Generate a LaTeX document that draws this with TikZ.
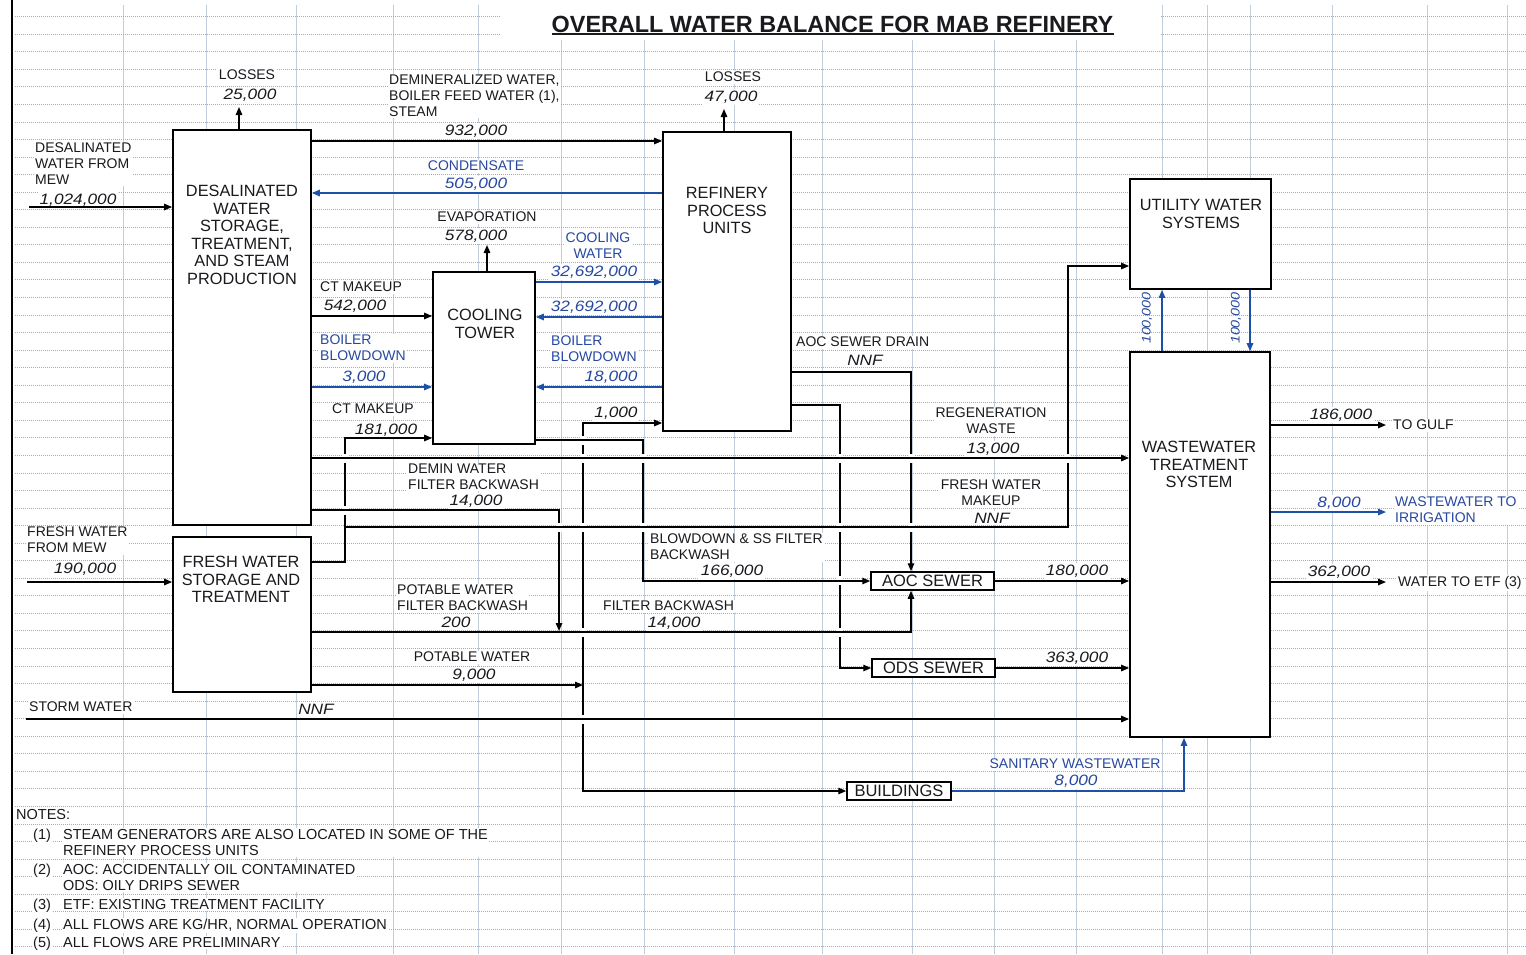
\documentclass[tikz,border=0pt]{standalone}
\usepackage{fontspec}
\setmainfont{Liberation Sans}
\newfontfamily\numfam[FakeStretch=1.15]{Liberation Sans}
\usetikzlibrary{arrows.meta}

\definecolor{ink}{RGB}{25,25,30}
\definecolor{flowblue}{RGB}{30,80,168}
\definecolor{txtblue}{RGB}{38,72,160}
\definecolor{gridv}{RGB}{192,205,218}
\definecolor{gridh}{RGB}{165,172,182}

\newcommand\lblfont{\fontsize{14}{16}\selectfont}
\newcommand\notefont{\fontsize{14.5}{16}\selectfont}
\newcommand\numfont{\numfam\itshape\fontsize{15}{17}\selectfont}
\newcommand\boxfont{\fontsize{16.3}{17.6}\selectfont}
% white break in a vertical run where another line crosses over it
\newcommand\hopgap[1]{\fill[white] (#1) ++(-2.6,-4.5) rectangle ++(5.2,9);}

\tikzset{
  >={Triangle[length=8pt,width=6.5pt]},
  procbox/.style={draw=black, fill=white, line width=1.8pt, inner sep=0pt},
  unittext/.style={font=\boxfont, text=ink, align=center, inner sep=0pt, anchor=north},
  sewerbox/.style={draw=black, fill=white, line width=1.5pt, inner sep=0pt,
    minimum height=18pt, font=\fontsize{16.5}{18}\selectfont, text=ink},
  lb/.style={font=\lblfont, text=ink, fill=white, inner sep=1.5pt},
  lbw/.style={lb, anchor=north west, align=left},
  lbc/.style={lb, anchor=north, align=center},
  note/.style={lbw, font=\notefont},
  nm/.style={font=\numfont, text=ink, fill=white, inner sep=1.5pt, anchor=north},
  vnum/.style={font=\numfam\itshape\fontsize{12.5}{15}\selectfont, text=txtblue,
    inner sep=0pt, anchor=center, rotate=90},
  flow/.style={draw=black, line width=1.4pt, ->},
  bflow/.style={draw=flowblue, line width=1.4pt, ->},
  gridvl/.style={draw=gridv, line width=0.8pt},
  gridhl/.style={draw=gridh, line width=0.6pt, dash pattern=on 1pt off 1pt},
}

\begin{document}
\begin{tikzpicture}[x=1pt, y=-1pt]
\useasboundingbox (0,0) rectangle (1526,954);

% ---- spreadsheet grid ----
\foreach \gx in {123,206,296,393,478,561,644,734,822,912,994,1076,1162,1207,1250,1332,1427,1507}
  \draw[gridvl] (\gx,5) -- (\gx,954);
\foreach \k in {0,...,53}
  \draw[gridhl] (15,16.5+17.55*\k) -- (1526,16.5+17.55*\k);
\fill[white] (500,0) rectangle (1160,40);
\draw[line width=1.3pt, black] (12,0) -- (12,954);

% ---- title ----
\node[font=\bfseries\fontsize{23.4}{27}\selectfont, text=ink, inner sep=0pt, anchor=north]
  (title) at (832.5,15.5) {OVERALL WATER BALANCE FOR MAB REFINERY};
\draw[line width=1.8pt, ink] ([yshift=-1.6pt]title.south west) -- ([yshift=-1.6pt]title.south east);

% ---- stream labels ----
\node[lbc] (tLossA) at (247,68.5) {LOSSES};
\node[nm]  (qLossA) at (250,87) {25,000};
\node[lbw] (tDwIn) at (33.5,141.5) {DESALINATED\\WATER FROM\\MEW};
\node[nm]  (qDwIn) at (78,192) {1,024,000};
\node[lbw] (tDemin) at (387.5,73.5) {DEMINERALIZED WATER,\\BOILER FEED WATER (1),\\STEAM};
\node[nm]  (qDemin) at (476,123) {932,000};
\node[lbc] (tLossB) at (733,70.5) {LOSSES};
\node[nm]  (qLossB) at (731,89) {47,000};
\node[lbc, text=txtblue] (tCond) at (476,159.5) {CONDENSATE};
\node[nm, text=txtblue]  (qCond) at (476,176) {505,000};
\node[lbc] (tEvap) at (487,210.5) {EVAPORATION};
\node[nm]  (qEvap) at (476,228) {578,000};
\node[lbc, text=txtblue] (tCw) at (598,231.5) {COOLING\\WATER};
\node[nm, text=txtblue]  (qCw) at (594,264) {32,692,000};
\node[nm, text=txtblue]  (qCwr) at (594,299) {32,692,000};
\node[lbw] (tCtA) at (318.5,280.5) {CT MAKEUP};
\node[nm]  (qCtA) at (355,298) {542,000};
\node[lbw, text=txtblue] (tBbA) at (318.5,333.5) {BOILER\\BLOWDOWN};
\node[nm, text=txtblue]  (qBbA) at (364,369) {3,000};
\node[lbw, text=txtblue] (tBbB) at (549.5,334.5) {BOILER\\BLOWDOWN};
\node[nm, text=txtblue]  (qBbB) at (611,369) {18,000};
\node[lbc] (tCtB) at (373,402.5) {CT MAKEUP};
\node[nm]  (qCtB) at (386,422) {181,000};
\node[nm]  (qPotRef) at (616,405) {1,000};
\node[lbw] (tDrain) at (794.5,335.5) {AOC SEWER DRAIN};
\node[nm]  (qDrain) at (865,353) {NNF};
\node[lbc] (tRegen) at (991,406.5) {REGENERATION\\WASTE};
\node[nm]  (qRegen) at (993,441) {13,000};
\node[lbw] (tDbw) at (406.5,462.5) {DEMIN WATER\\FILTER BACKWASH};
\node[nm]  (qDbw) at (476,493) {14,000};
\node[lbc] (tFwm) at (991,478.5) {FRESH WATER\\MAKEUP};
\node[nm]  (qFwm) at (992,511) {NNF};
\node[lbw] (tFwIn) at (25.5,525.5) {FRESH WATER\\FROM MEW};
\node[nm]  (qFwIn) at (85,561) {190,000};
\node[lbw] (tBsf) at (648.5,532.5) {BLOWDOWN \& SS FILTER\\BACKWASH};
\node[nm]  (qBsf) at (732,563) {166,000};
\node[nm]  (qAocOut) at (1077,563) {180,000};
\node[lbw] (tPfb) at (395.5,583.5) {POTABLE WATER\\FILTER BACKWASH};
\node[nm]  (qPfb) at (456,615) {200};
\node[lbw] (tFb) at (601.5,599.5) {FILTER BACKWASH};
\node[nm]  (qFb) at (674,615) {14,000};
\node[lbc] (tPot) at (472,650.5) {POTABLE WATER};
\node[nm]  (qPot) at (474,667) {9,000};
\node[nm]  (qOdsOut) at (1077,650) {363,000};
\node[lbw] (tStorm) at (27.5,700.5) {STORM WATER};
\node[nm]  (qStorm) at (316,702) {NNF};
\node[lbc, text=txtblue] (tSan) at (1075,757.5) {SANITARY WASTEWATER};
\node[nm, text=txtblue]  (qSan) at (1076,773) {8,000};
\node[nm]  (qGulf) at (1341,407) {186,000};
\node[lbw] (tGulf) at (1391.5,418.5) {TO GULF};
\node[nm, text=txtblue]  (qIrr) at (1339,495) {8,000};
\node[lbw, text=txtblue] (tIrr) at (1393.5,495.5) {WASTEWATER TO\\IRRIGATION};
\node[nm]  (qEtf) at (1339,564) {362,000};
\node[lbw] (tEtf) at (1396.5,574.5) {WATER TO ETF (3)};

% ---- notes ----
\node[note] (notes) at (14.5,807.5) {NOTES:};
\node[note] (n1) at (31.5,827.5) {(1)};
\node[note] (n1t) at (61.5,827.5) {STEAM GENERATORS ARE ALSO LOCATED IN SOME OF THE\\REFINERY PROCESS UNITS};
\node[note] (n2) at (31.5,862.5) {(2)};
\node[note] (n2t) at (61.5,862.5) {AOC: ACCIDENTALLY OIL CONTAMINATED\\ODS: OILY DRIPS SEWER};
\node[note] (n3) at (31.5,897.5) {(3)};
\node[note] (n3t) at (61.5,897.5) {ETF: EXISTING TREATMENT FACILITY};
\node[note] (n4) at (31.5,917.5) {(4)};
\node[note] (n4t) at (61.5,917.5) {ALL FLOWS ARE KG/HR, NORMAL OPERATION};
\node[note] (n5) at (31.5,935.5) {(5)};
\node[note] (n5t) at (61.5,935.5) {ALL FLOWS ARE PRELIMINARY};

% ---- process units ----
\node[procbox, minimum width=138pt, minimum height=395pt] (desal) at (242,327.5) {};
\node[unittext] (desalT) at (242,185) {DESALINATED\\WATER\\STORAGE,\\TREATMENT,\\AND STEAM\\PRODUCTION};
\node[procbox, minimum width=138pt, minimum height=155pt] (fw) at (242,614.5) {};
\node[unittext] (fwT) at (241,556) {FRESH WATER\\STORAGE AND\\TREATMENT};
\node[procbox, minimum width=102pt, minimum height=172pt] (ct) at (484,358) {};
\node[unittext] (ctT) at (485,309) {COOLING\\TOWER};
\node[procbox, minimum width=128pt, minimum height=299pt] (ref) at (727,281.5) {};
\node[unittext] (refT) at (727,187) {REFINERY\\PROCESS\\UNITS};
\node[procbox, minimum width=141pt, minimum height=110pt] (util) at (1200.5,234) {};
\node[unittext] (utilT) at (1201,199) {UTILITY WATER\\SYSTEMS};
\node[procbox, minimum width=140pt, minimum height=385pt] (wwts) at (1200,544.5) {};
\node[unittext] (wwtsT) at (1199,441) {WASTEWATER\\TREATMENT\\SYSTEM};
\node[sewerbox, minimum width=123pt] (aoc) at (932.5,581) {AOC SEWER};
\node[sewerbox, minimum width=123pt] (ods) at (933.5,668) {ODS SEWER};
\node[sewerbox, minimum width=104pt] (bld) at (899,791) {BUILDINGS};

% vertical flow values between the utility and wastewater units
\node[vnum] (qUp) at (1147,318) {100,000};
\node[vnum] (qDown) at (1236,318) {100,000};

% ---- free ends ----
\coordinate (lossA) at (239,107);
\coordinate (lossB) at (724,109);
\coordinate (evapT) at (487,245);
\coordinate (dwIn) at (29,207);
\coordinate (fwIn) at (27,582);
\coordinate (stormIn) at (26,719);
\coordinate (makeupTap) at (345,527);
\coordinate (potHead) at (583,685);
\coordinate (gulfOut) at (1386,425);
\coordinate (irrOut) at (1386,512);
\coordinate (etfOut) at (1386,582);

% ---- straight streams ----
\draw[flow] (desal.north -| lossA) -- (lossA);
\draw[flow] (ref.north -| lossB) -- (lossB);
\draw[flow] (ct.north -| evapT) -- (evapT);
\draw[flow] (dwIn) -- (desal.west |- dwIn);
\draw[flow] (fwIn) -- (fw.west |- fwIn);
\draw[flow] (desal.east |- 0,141) -- (ref.west |- 0,141);
\draw[bflow] (ref.west |- 0,193) -- (desal.east |- 0,193);
\draw[bflow] (ct.east |- 0,282) -- (ref.west |- 0,282);
\draw[bflow] (ref.west |- 0,317) -- (ct.east |- 0,317);
\draw[flow] (desal.east |- 0,316) -- (ct.west |- 0,316);
\draw[bflow] (desal.east |- 0,387) -- (ct.west |- 0,387);
\draw[bflow] (ref.west |- 0,387) -- (ct.east |- 0,387);

% ---- routed streams, lower layers first ----
\draw[flow] (ref.east |- 0,405) -| (840,668) -- (ods.west);
\draw[flow] (ref.east |- 0,372) -| (aoc.north -| 911,0);
\draw[flow, <->] (ref.west |- 0,423) -| (583,791) -- (bld.west);
\draw[flow] (fw.east |- potHead) -- (potHead);
\draw[flow] (fw.east |- 0,562) -| (345,438) -- (ct.west |- 0,438);

\hopgap{583,440} \hopgap{840,580} \hopgap{345,510}
\hopgap{583,632} \hopgap{840,632} \hopgap{583,719}

\draw[flow] (ct.east |- 0,440) -| (aoc.west -| 643,0) -- (aoc.west);
\draw[flow] (fw.east |- 0,632) -| (aoc.south -| 911,0);
\draw[flow] (desal.east |- 0,510) -| (559,631);
\draw[flow] (stormIn) -- (wwts.west |- stormIn);

\hopgap{559,527} \hopgap{583,527} \hopgap{643,527} \hopgap{840,527} \hopgap{911,527}

\draw[flow] (makeupTap) -| (1068,266) -- (util.west |- 0,266);

\hopgap{345,458} \hopgap{583,458} \hopgap{643,458} \hopgap{840,458} \hopgap{911,458} \hopgap{1068,458}

\draw[flow] (desal.east |- 0,458) -- (wwts.west |- 0,458);

% ---- wastewater side ----
\draw[flow] (aoc.east) -- (wwts.west |- aoc.east);
\draw[flow] (ods.east) -- (wwts.west |- ods.east);
\draw[bflow] (bld.east) -| (wwts.south -| 1184,0);
\draw[bflow] (wwts.north -| 1162,0) -- (util.south -| 1162,0);
\draw[bflow] (util.south -| 1250,0) -- (wwts.north -| 1250,0);
\draw[flow] (wwts.east |- gulfOut) -- (gulfOut);
\draw[bflow] (wwts.east |- irrOut) -- (irrOut);
\draw[flow] (wwts.east |- etfOut) -- (etfOut);
\end{tikzpicture}
\end{document}
